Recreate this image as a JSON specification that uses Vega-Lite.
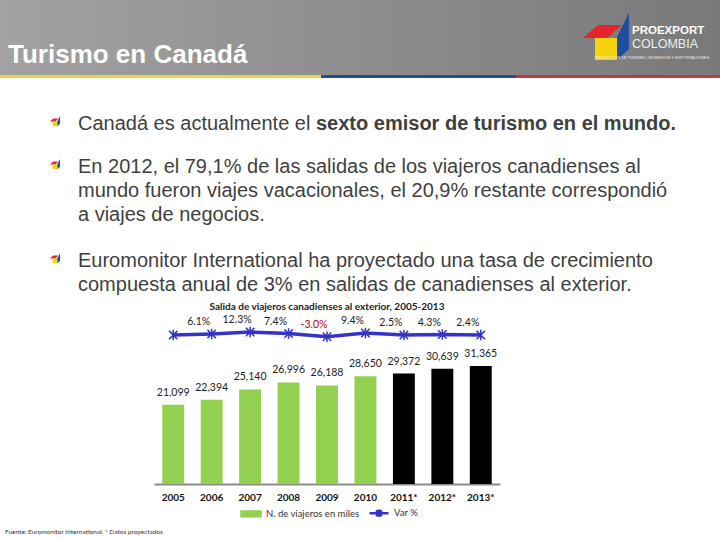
{
  "$schema": "https://vega.github.io/schema/vega-lite/v6.json",
  "padding": 0,
  "background": "white",
  "bounds": "flush",
  "spacing": 0,
  "config": {
    "view": {"stroke": null},
    "concat": {"spacing": 0},
    "locale": {"number": {"decimal": ".", "thousands": ",", "grouping": [3], "currency": ["$", ""], "minus": "-"}}
  },
  "datasets": {
    "logo": [{"pieza": "rojo"}, {"pieza": "amarillo"}, {"pieza": "azul"}],
    "viajes": [
      {"anio": "2005", "viajeros": 21099, "var": 0.025, "proyectado": false},
      {"anio": "2006", "viajeros": 22394, "var": 0.061, "proyectado": false},
      {"anio": "2007", "viajeros": 25140, "var": 0.123, "proyectado": false},
      {"anio": "2008", "viajeros": 26996, "var": 0.074, "proyectado": false},
      {"anio": "2009", "viajeros": 26188, "var": -0.030, "proyectado": false},
      {"anio": "2010", "viajeros": 28650, "var": 0.094, "proyectado": false},
      {"anio": "2011*", "viajeros": 29372, "var": 0.025, "proyectado": true},
      {"anio": "2012*", "viajeros": 30639, "var": 0.043, "proyectado": true},
      {"anio": "2013*", "viajeros": 31365, "var": 0.024, "proyectado": true}
    ]
  },
  "resolve": {"scale": {"color": "independent", "shape": "independent"}, "legend": {"color": "independent", "shape": "independent"}},
  "vconcat": [
    {
      "width": 720,
      "height": 75,
      "view": {"fill": "#8c8c8c", "stroke": null},
      "layer": [
        {
          "data": {"values": [{"fondo": "cabecera"}]},
          "mark": {"type": "rect", "fill": {"gradient": "linear", "x1": 0, "y1": 0, "x2": 1, "y2": 0, "stops": [{"offset": 0, "color": "#a2a2a2"}, {"offset": 1, "color": "#797979"}]}},
          "encoding": {}
        },
        {
          "data": {"values": [{"t": "Turismo en Canadá"}]},
          "mark": {"type": "text", "x": 8, "y": 55, "align": "left", "baseline": "middle", "font": "Liberation Sans", "fontSize": 26, "fontWeight": "bold", "color": "#ffffff"},
          "encoding": {"text": {"field": "t"}}
        },
        {
          "data": {"name": "logo"},
          "mark": {"type": "point", "filled": true, "opacity": 1, "x": 606, "y": 36, "size": 2500, "strokeWidth": 0},
          "encoding": {
            "shape": {"field": "pieza", "type": "nominal", "legend": null, "scale": {"domain": ["rojo", "amarillo", "azul"], "range": ["M-0.92,0.08L-0.32,-0.44L0.64,-0.44L0.04,0.08Z", "M-0.44,0.08H0.44V0.96H-0.44Z", "M0.44,0.04L0.92,-0.92L0.92,0.52L0.44,0.96Z"]}},
            "color": {"field": "pieza", "type": "nominal", "legend": null, "scale": {"domain": ["rojo", "amarillo", "azul"], "range": ["#e3262d", "#f6d40c", "#1f4e9e"]}}
          }
        },
        {
          "data": {"values": [{"t": "PROEXPORT"}]},
          "mark": {"type": "text", "x": 632, "y": 31, "align": "left", "baseline": "middle", "font": "Liberation Sans", "fontSize": 11.5, "fontWeight": "bold", "color": "#ffffff"},
          "encoding": {"text": {"field": "t"}}
        },
        {
          "data": {"values": [{"t": "COLOMBIA"}]},
          "mark": {"type": "text", "x": 632, "y": 44, "align": "left", "baseline": "middle", "font": "Liberation Sans", "fontSize": 12.5, "color": "#eeeeee"},
          "encoding": {"text": {"field": "t"}}
        },
        {
          "data": {"values": [{"t": "PROMOCIÓN DE TURISMO, INVERSIÓN Y EXPORTACIONES"}]},
          "mark": {"type": "text", "x": 595, "y": 58, "align": "left", "baseline": "middle", "font": "Liberation Sans", "fontSize": 4, "color": "#eeeeee"},
          "encoding": {"text": {"field": "t"}}
        }
      ]
    },
    {
      "bounds": "flush",
      "spacing": 0,
      "hconcat": [
        {"width": 321, "height": 3, "view": {"fill": "#ecd246", "stroke": null}, "data": {"values": [{"franja": "amarilla"}]}, "mark": {"type": "rect", "color": "#ecd246"}, "encoding": {}},
        {"width": 195, "height": 3, "view": {"fill": "#244d8f", "stroke": null}, "data": {"values": [{"franja": "azul"}]}, "mark": {"type": "rect", "color": "#244d8f"}, "encoding": {}},
        {"width": 204, "height": 3, "view": {"fill": "#c33a3e", "stroke": null}, "data": {"values": [{"franja": "roja"}]}, "mark": {"type": "rect", "color": "#c33a3e"}, "encoding": {}}
      ]
    },
    {
      "width": 720,
      "height": 251,
      "layer": [
        {
          "data": {"name": "logo"},
          "mark": {"type": "point", "filled": true, "opacity": 1, "x": 55, "y": 46, "size": 121, "strokeWidth": 0},
          "encoding": {
            "shape": {"field": "pieza", "type": "nominal", "legend": null, "scale": {"domain": ["rojo", "amarillo", "azul"], "range": ["M-0.92,0.08L-0.32,-0.44L0.64,-0.44L0.04,0.08Z", "M-0.44,0.08H0.44V0.96H-0.44Z", "M0.44,0.04L0.92,-0.92L0.92,0.52L0.44,0.96Z"]}},
            "color": {"field": "pieza", "type": "nominal", "legend": null, "scale": {"domain": ["rojo", "amarillo", "azul"], "range": ["#e3262d", "#f6d40c", "#1f4e9e"]}}
          }
        },
        {
          "data": {"name": "logo"},
          "mark": {"type": "point", "filled": true, "opacity": 1, "x": 55, "y": 89, "size": 121, "strokeWidth": 0},
          "encoding": {
            "shape": {"field": "pieza", "type": "nominal", "legend": null},
            "color": {"field": "pieza", "type": "nominal", "legend": null}
          }
        },
        {
          "data": {"name": "logo"},
          "mark": {"type": "point", "filled": true, "opacity": 1, "x": 55, "y": 183, "size": 121, "strokeWidth": 0},
          "encoding": {
            "shape": {"field": "pieza", "type": "nominal", "legend": null},
            "color": {"field": "pieza", "type": "nominal", "legend": null}
          }
        },
        {
          "data": {"values": [{"t": "Canadá es actualmente el"}]},
          "mark": {"type": "text", "x": 78, "y": 39, "align": "left", "baseline": "top", "font": "Liberation Sans", "fontSize": 20, "color": "#3f3f3f"},
          "encoding": {"text": {"field": "t"}}
        },
        {
          "data": {"values": [{"t": "sexto emisor de turismo en el mundo."}]},
          "mark": {"type": "text", "x": 316, "y": 39, "align": "left", "baseline": "top", "font": "Liberation Sans", "fontSize": 20, "fontWeight": "bold", "color": "#3f3f3f"},
          "encoding": {"text": {"field": "t"}}
        },
        {
          "data": {"values": [{"t": "En 2012, el 79,1% de las salidas de los viajeros canadienses al\nmundo fueron viajes vacacionales, el 20,9% restante correspondió\na viajes de negocios."}]},
          "mark": {"type": "text", "x": 78, "y": 82, "align": "left", "baseline": "top", "lineBreak": "\n", "lineHeight": 24, "font": "Liberation Sans", "fontSize": 20, "color": "#3f3f3f"},
          "encoding": {"text": {"field": "t"}}
        },
        {
          "data": {"values": [{"t": "Euromonitor International ha proyectado una tasa de crecimiento\ncompuesta anual de 3% en salidas de canadienses al exterior."}]},
          "mark": {"type": "text", "x": 78, "y": 176, "align": "left", "baseline": "top", "lineBreak": "\n", "lineHeight": 24, "font": "Liberation Sans", "fontSize": 20, "color": "#3f3f3f"},
          "encoding": {"text": {"field": "t"}}
        }
      ]
    },
    {
      "bounds": "flush",
      "spacing": 0,
      "hconcat": [
        {
          "width": 154,
          "height": 211,
          "data": {"values": [{"t": "Fuente: Euromonitor International. * Datos proyectados"}]},
          "mark": {"type": "text", "x": 5, "y": 206, "align": "left", "baseline": "middle", "font": "Lato", "fontSize": 6.5, "color": "#333333"},
          "encoding": {"text": {"field": "t"}}
        },
        {
          "width": 346,
          "height": 158,
          "title": {"text": "Salida de viajeros canadienses al exterior, 2005-2013", "font": "Lato", "fontSize": 10, "fontWeight": "bold", "color": "#222222", "anchor": "middle", "offset": 3},
          "data": {"name": "viajes"},
          "encoding": {
            "x": {"field": "anio", "type": "ordinal", "sort": null, "scale": {"paddingInner": 0.43, "paddingOuter": 0.215},
              "axis": {"title": null, "labelAngle": 0, "labelFont": "Lato", "labelFontSize": 10, "labelFontWeight": "bold", "labelColor": "#111111", "ticks": false, "domainColor": "#8c8c8c", "domainWidth": 2, "labelPadding": 8}}
          },
          "layer": [
            {
              "layer": [
                {
                  "mark": {"type": "bar"},
                  "encoding": {
                    "y": {"field": "viajeros", "type": "quantitative", "scale": {"domain": [0, 42000], "nice": false}, "axis": null},
                    "color": {
                      "condition": {"test": "datum.proyectado", "value": "#000000"},
                      "datum": "N. de viajeros en miles",
                      "type": "nominal",
                      "scale": {"domain": ["N. de viajeros en miles", "Var %"], "range": ["#92d050", "#3434c8"]},
                      "legend": {
                        "title": null, "orient": "none", "direction": "horizontal", "legendX": 240, "legendY": 176, "padding": 0,
                        "labelFont": "Lato", "labelFontSize": 9.5, "labelColor": "#333333", "symbolSize": 361, "columnPadding": 4, "labelOffset": 4,
                        "encode": {"symbols": {"update": {
                          "shape": {"signal": "datum.value === 'Var %' ? 'M-1,0H1M-0.3,-0.3L0.3,0.3M-0.3,0.3L0.3,-0.3M0,-0.38V0.38' : 'M-1,-0.25H1V0.25H-1Z'"},
                          "fill": {"signal": "datum.value === 'Var %' ? 'transparent' : '#92d050'"},
                          "stroke": {"signal": "datum.value === 'Var %' ? '#3434c8' : 'transparent'"},
                          "strokeWidth": {"value": 2.5},
                          "size": {"value": 361},
                          "opacity": {"value": 1}
                        }}}
                      }
                    }
                  }
                },
                {
                  "mark": {"type": "text", "dy": -12, "font": "Lato", "fontSize": 10.5, "color": "#222222"},
                  "encoding": {
                    "y": {"field": "viajeros", "type": "quantitative", "scale": {"domain": [0, 42000], "nice": false}, "axis": null},
                    "text": {"field": "viajeros", "type": "quantitative", "format": ","}
                  }
                }
              ]
            },
            {
              "layer": [
                {
                  "mark": {"type": "line", "strokeWidth": 3.5},
                  "encoding": {
                    "y": {"field": "var", "type": "quantitative", "scale": {"domain": [-4.827, 0.32], "nice": false, "zero": false}, "axis": null},
                    "color": {"datum": "Var %", "type": "nominal"}
                  }
                },
                {
                  "mark": {"type": "point", "shape": "M-0.8,-0.8L0.8,0.8M-0.8,0.8L0.8,-0.8M0,-1L0,1", "size": 110, "filled": false, "strokeWidth": 1.5, "color": "#3434c8", "opacity": 1},
                  "encoding": {
                    "y": {"field": "var", "type": "quantitative", "scale": {"domain": [-4.827, 0.32], "nice": false, "zero": false}, "axis": null}
                  }
                },
                {
                  "transform": [{"filter": "datum.anio !== '2005'"}],
                  "mark": {"type": "text", "dx": -13, "dy": -12, "font": "Lato", "fontSize": 10.5},
                  "encoding": {
                    "y": {"field": "var", "type": "quantitative", "scale": {"domain": [-4.827, 0.32], "nice": false, "zero": false}, "axis": null},
                    "text": {"field": "var", "type": "quantitative", "format": ".1%"},
                    "color": {"condition": {"test": "datum['var'] < 0", "value": "#c00000"}, "value": "#222222"}
                  }
                }
              ]
            }
          ],
          "resolve": {"scale": {"y": "independent"}}
        }
      ]
    }
  ]
}
